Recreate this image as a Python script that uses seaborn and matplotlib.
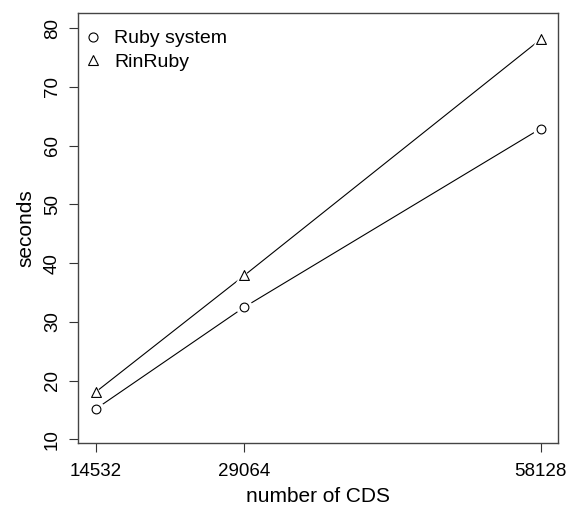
import matplotlib
matplotlib.use('Agg')
import matplotlib.pyplot as plt
import pandas as pd
import seaborn as sns
from matplotlib.lines import Line2D

CDS = [14532, 29064, 58128]
RUBY_SYSTEM = [15.2, 32.5, 62.9]
RINRUBY = [18.1, 37.9, 78.1]
SERIES = ['Ruby system', 'RinRuby']
MARKERS = {'Ruby system': 'o', 'RinRuby': '^'}
Y_TICKS = [10, 20, 30, 40, 50, 60, 70, 80]


def main():
    sns.set_theme(style='white')
    plt.rcParams['font.family'] = ['Liberation Sans', 'DejaVu Sans']
    plt.rcParams['text.color'] = 'black'
    plt.rcParams['axes.labelcolor'] = 'black'
    plt.rcParams['xtick.color'] = 'black'
    plt.rcParams['ytick.color'] = 'black'

    df = pd.DataFrame({
        'cds': CDS * 2,
        'seconds': RUBY_SYSTEM + RINRUBY,
        'method': [SERIES[0]] * 3 + [SERIES[1]] * 3,
    })

    fig = plt.figure(figsize=(5.68, 5.07), dpi=100)
    ax = fig.add_axes([78.3 / 568, (507 - 442.7) / 507, 480 / 568, 429.4 / 507])

    for name in SERIES:
        sub = df[df['method'] == name]
        # line with white halo markers to leave gaps around points (R type="b")
        sns.lineplot(data=sub, x='cds', y='seconds', ax=ax, color='black', linewidth=0.8,
                     marker=MARKERS[name], markersize=12, markerfacecolor='white',
                     markeredgecolor='white', markeredgewidth=0, legend=False)
        sns.scatterplot(data=sub, x='cds', y='seconds', ax=ax, marker=MARKERS[name],
                        s=40 if name == 'Ruby system' else 50, facecolor='white',
                        edgecolor='black', linewidth=0.8, zorder=5, legend=False)

    ax.set_xlim(12788, 59872)
    ax.set_ylim(9.42, 82.55)
    ax.set_xticks(CDS)
    ax.set_xticklabels([str(c) for c in CDS])
    ax.set_yticks(Y_TICKS)
    ax.set_yticklabels([str(t) for t in Y_TICKS], rotation=90, va='center')
    ax.tick_params(direction='out', length=6.5, width=0.8, color='#333333',
                   labelsize=13.5, pad=6, bottom=True, left=True)
    ax.tick_params(axis='x', pad=8)
    for spine in ax.spines.values():
        spine.set_color('#444444')
        spine.set_linewidth(1.0)

    ax.set_xlabel('number of CDS', fontsize=15, labelpad=5)
    ax.set_ylabel('seconds', fontsize=15, labelpad=6)

    handles = [
        Line2D([], [], linestyle='none', marker=MARKERS[name], markersize=6.5 if name == 'Ruby system' else 7.2,
               markerfacecolor='white', markeredgecolor='black', markeredgewidth=0.8)
        for name in SERIES
    ]
    ax.legend(handles, SERIES, loc='upper left', bbox_to_anchor=(-0.025, 1.0), frameon=False,
              fontsize=14, handlelength=1.0, handletextpad=0.6, labelspacing=0.3,
              borderaxespad=0.45)

    fig.savefig('out.png', dpi=100)
    plt.close(fig)


if __name__ == '__main__':
    main()
